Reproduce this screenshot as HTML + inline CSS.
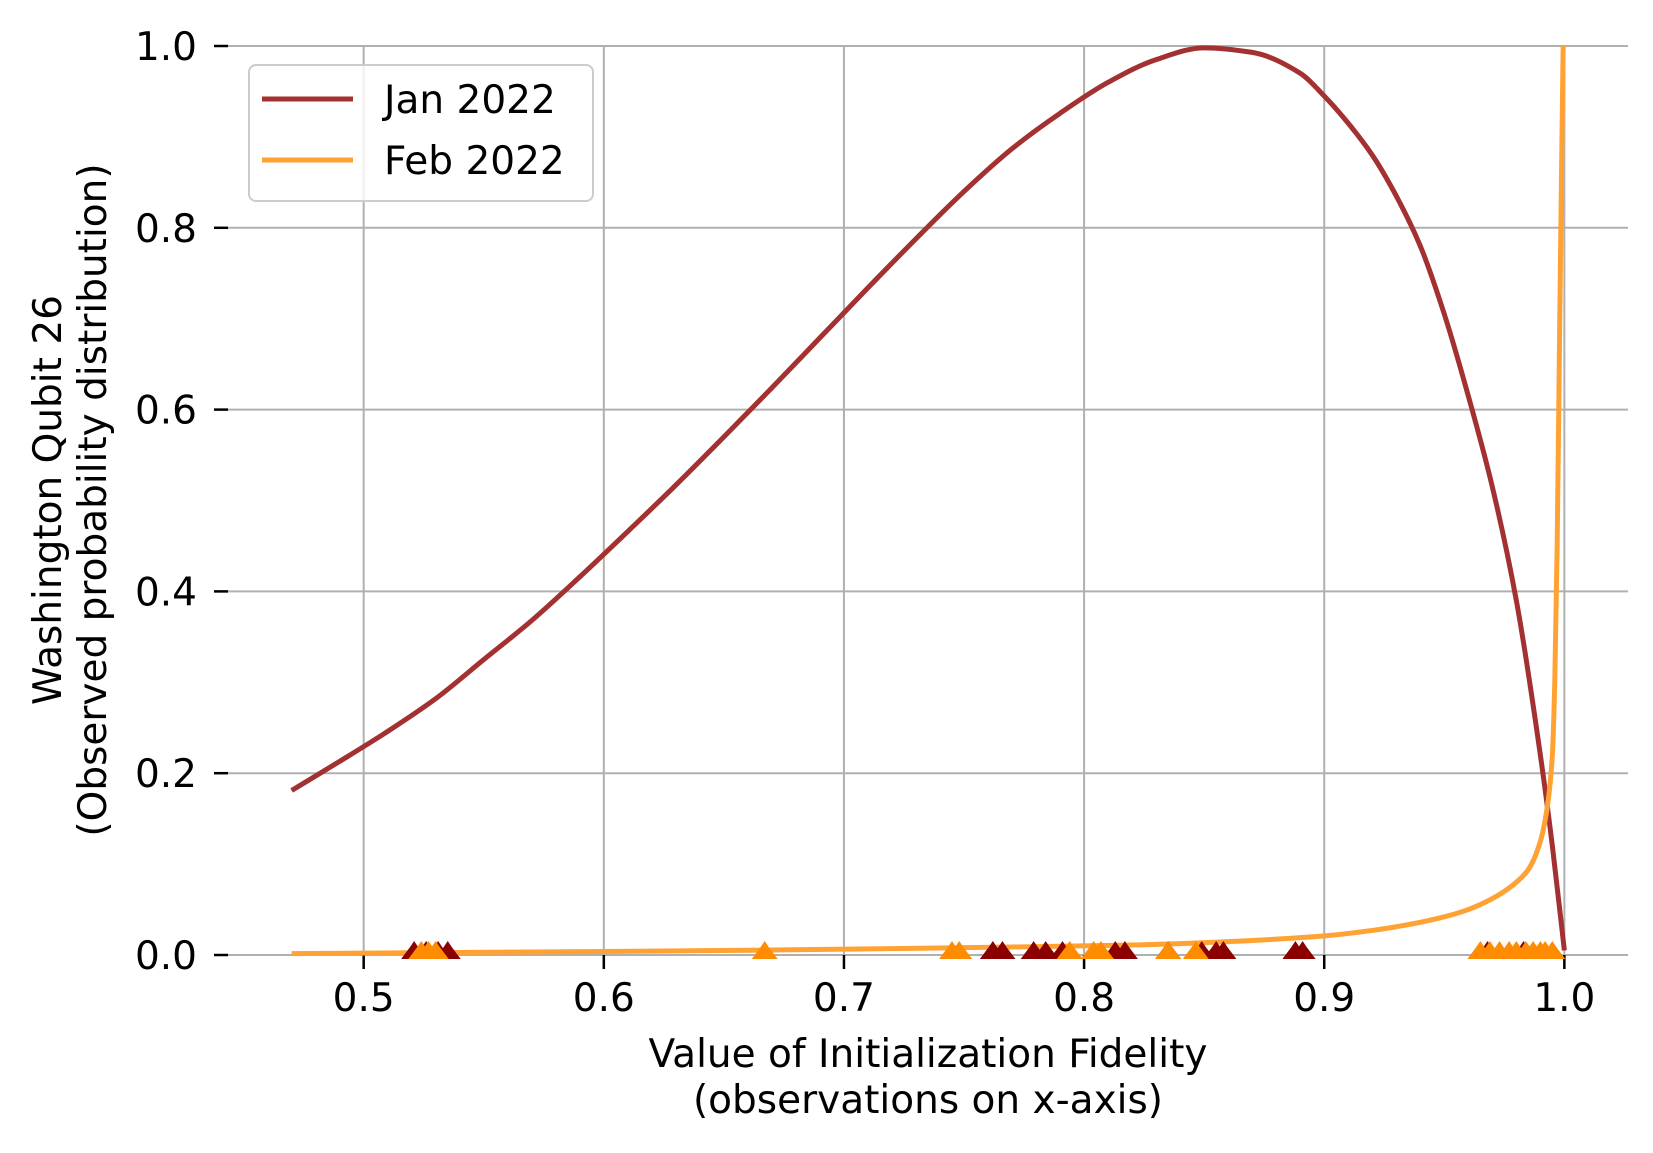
<!DOCTYPE html>
<html><head><meta charset="utf-8">
<style>
html,body{margin:0;padding:0;background:#fff;}
svg{display:block;font-family:"DejaVu Sans","Liberation Sans",sans-serif;}
</style></head>
<body>
<svg id="chart" width="1653" height="1153" viewBox="0 0 1653 1153" xmlns="http://www.w3.org/2000/svg">
<defs><clipPath id="plotclip"><rect x="228" y="40" width="1402" height="920"/></clipPath></defs>
<g id="grid"></g>
<g id="axes"></g>
<g id="series" clip-path="url(#plotclip)"></g>
<text x="928" y="1067" font-size="39" text-anchor="middle">Value of Initialization Fidelity</text>
<text x="928" y="1113" font-size="39" text-anchor="middle">(observations on x-axis)</text>
<text transform="translate(61,500) rotate(-90)" font-size="39" text-anchor="middle">Washington Qubit 26</text>
<text transform="translate(106,500) rotate(-90)" font-size="39" text-anchor="middle">(Observed probability distribution)</text>
<g>
<rect x="249" y="65" width="344" height="136" rx="7" fill="#fff" fill-opacity="0.8" stroke="#cccccc" stroke-width="2"/>
<line x1="262" y1="99" x2="353" y2="99" stroke="#a33131" stroke-width="5"/>
<text x="384" y="113" font-size="39">Jan 2022</text>
<line x1="262" y1="160" x2="353" y2="160" stroke="#ffa233" stroke-width="5"/>
<text x="384" y="174" font-size="39">Feb 2022</text>
</g>
</svg>
<script>
const xTicks = [0.5, 0.6, 0.7, 0.8, 0.9, 1.0];
const xTickLabels = ["0.5", "0.6", "0.7", "0.8", "0.9", "1.0"];
const yTicks = [0, 0.2, 0.4, 0.6, 0.8, 1.0];
const yTickLabels = ["0.0", "0.2", "0.4", "0.6", "0.8", "1.0"];
const janX = [0.47,0.49,0.51,0.53,0.55,0.57,0.59,0.61,0.63,0.65,0.67,0.69,0.71,0.73,0.75,0.77,0.79,0.81,0.83,0.85,0.87,0.89,0.90,0.91,0.92,0.93,0.94,0.95,0.96,0.97,0.98,0.99,0.995,1.0];
const janY = [0.181,0.213,0.246,0.282,0.325,0.368,0.416,0.466,0.517,0.570,0.624,0.679,0.734,0.788,0.840,0.887,0.926,0.960,0.985,0.998,0.993,0.970,0.945,0.915,0.880,0.835,0.780,0.705,0.615,0.515,0.390,0.220,0.120,0.005];
const febX = [0.47,0.52,0.57,0.62,0.67,0.72,0.77,0.82,0.87,0.9,0.92,0.94,0.95,0.96,0.97,0.975,0.98,0.985,0.99,0.993,0.995,0.996,0.997,0.998,0.999,0.9995];
const febY = [0.0015,0.0025,0.0033,0.0043,0.0055,0.007,0.0088,0.011,0.016,0.021,0.027,0.036,0.042,0.050,0.062,0.070,0.080,0.094,0.125,0.165,0.22,0.30,0.45,0.68,0.90,1.0];
const janObs = [0.521,0.526,0.531,0.535,0.762,0.766,0.779,0.784,0.791,0.813,0.817,0.835,0.849,0.855,0.858,0.888,0.891,0.968,0.983];
const febObs = [0.524,0.527,0.530,0.667,0.745,0.748,0.794,0.804,0.807,0.835,0.8465,0.965,0.969,0.973,0.977,0.98,0.984,0.987,0.99,0.992,0.995];

const X0 = 228, X1 = 1628, XMIN = 0.4435, XMAX = 1.0265;
const Y0 = 955, Y1 = 46;
function sx(v){ return X0 + (v - XMIN) / (XMAX - XMIN) * (X1 - X0); }
function sy(v){ return Y0 - v * (Y0 - Y1); }
const NS = "http://www.w3.org/2000/svg";
function mk(tag, attrs, parent){ const e = document.createElementNS(NS, tag); for (const k in attrs) e.setAttribute(k, attrs[k]); parent.appendChild(e); return e; }
const grid = document.getElementById('grid'), axes = document.getElementById('axes'), series = document.getElementById('series');

xTicks.forEach((t, i) => {
  const g = mk('line', {x1: sx(t), x2: sx(t), y1: Y1, y2: Y0, stroke: '#b0b0b0', 'stroke-width': 2}, grid);
  
  
  const tk = mk('line', {x1: sx(t), x2: sx(t), y1: Y0, y2: Y0 + 14, stroke: '#000', 'stroke-width': 2.5}, axes);
  
  
  const lb = mk('text', {x: sx(t), y: 1011, 'font-size': 39, 'text-anchor': 'middle'}, axes);
  lb.textContent = xTickLabels[i];
  
  
});
yTicks.forEach((t, i) => {
  const g = mk('line', {x1: X0, x2: X1, y1: sy(t), y2: sy(t), stroke: '#b0b0b0', 'stroke-width': 2}, grid);
  
  
  const tk = mk('line', {x1: X0 - 14, x2: X0, y1: sy(t), y2: sy(t), stroke: '#000', 'stroke-width': 2.5}, axes);
  
  
  const lb = mk('text', {x: 197, y: sy(t) + 14, 'font-size': 39, 'text-anchor': 'end'}, axes);
  lb.textContent = yTickLabels[i];
  
  
});

// monotone cubic (Fritsch-Carlson) in pixel space
function smoothPath(xs, ys){
  const px = xs.map(sx), py = ys.map(sy), n = px.length;
  const h = [], d = [];
  for (let i = 0; i < n - 1; i++) { h.push(px[i + 1] - px[i]); d.push((py[i + 1] - py[i]) / h[i]); }
  const m = new Array(n);
  m[0] = d[0]; m[n - 1] = d[n - 2];
  for (let i = 1; i < n - 1; i++) {
    if (d[i - 1] * d[i] <= 0) m[i] = 0;
    else { const w1 = 2 * h[i] + h[i - 1], w2 = h[i] + 2 * h[i - 1]; m[i] = (w1 + w2) / (w1 / d[i - 1] + w2 / d[i]); }
  }
  let p = 'M' + px[0] + ',' + py[0];
  for (let i = 0; i < n - 1; i++) {
    p += ' C' + (px[i] + h[i] / 3) + ',' + (py[i] + m[i] * h[i] / 3) + ' ' + (px[i + 1] - h[i] / 3) + ',' + (py[i + 1] - m[i + 1] * h[i] / 3) + ' ' + px[i + 1] + ',' + py[i + 1];
  }
  return p;
}
const janLine = mk('path', {d: smoothPath(janX, janY), fill: 'none', stroke: '#a33131', 'stroke-width': 5, 'stroke-linejoin': 'round'}, series);


const febLine = mk('path', {d: smoothPath(febX, febY), fill: 'none', stroke: '#ffa233', 'stroke-width': 5, 'stroke-linejoin': 'round'}, series);



function tri(v, color){
  const cx = sx(v), cy = sy(0);
  return mk('polygon', {points: (cx - 13) + ',' + (cy + 4) + ' ' + (cx + 13) + ',' + (cy + 4) + ' ' + (cx + 4) + ',' + (cy - 8) + ' ' + cx + ',' + (cy - 14) + ' ' + (cx - 4) + ',' + (cy - 8), fill: color}, series);
}
janObs.forEach(v => {
  const t = tri(v, '#8b0000');
  
  
});
febObs.forEach(v => {
  const t = tri(v, '#ff8c00');
  
  
});
</script>
</body></html>
